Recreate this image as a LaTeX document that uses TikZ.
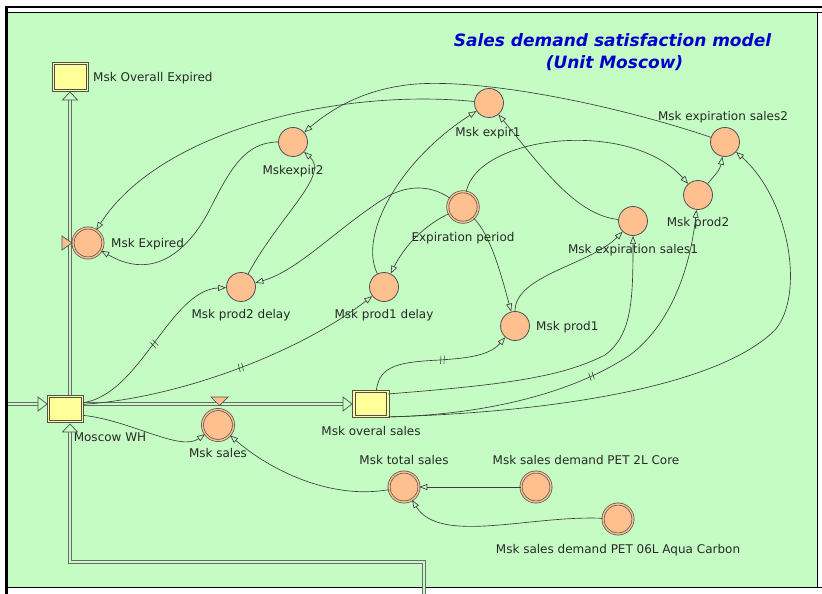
\documentclass[tikz,border=0pt]{standalone}
\usepackage{fontspec}
\setmainfont{DejaVu Sans}
\usetikzlibrary{arrows.meta,decorations.markings}
\definecolor{bg}{RGB}{196,252,196}
\definecolor{auxfill}{RGB}{255,192,144}
\definecolor{stockfill}{RGB}{255,255,153}
\definecolor{edge}{RGB}{80,80,80}
\definecolor{conncol}{RGB}{60,60,60}
\definecolor{txtcol}{RGB}{40,40,40}
\definecolor{titlecol}{RGB}{0,0,204}
\begin{document}
\begin{tikzpicture}[x=1bp,y=-1bp,
 aux/.style={circle,fill=auxfill,draw=edge,line width=0.8bp,minimum size=29bp,inner sep=0pt},
 auxd/.style={circle,fill=auxfill,draw=edge,line width=0.7bp,double=auxfill,double distance=1.4bp,minimum size=30bp,inner sep=0pt},
 stock/.style={rectangle,fill=stockfill,draw=edge,line width=0.8bp,double=stockfill,double distance=1.6bp,minimum width=34bp,minimum height=25bp,inner sep=0pt},
 lbl/.style={font=\fontsize{12bp}{14bp}\selectfont,text=txtcol,inner sep=0pt,anchor=base},
 titlestyle/.style={font=\fontsize{17bp}{20bp}\selectfont\bfseries\itshape,text=titlecol,inner sep=0pt,anchor=base},
 conn/.style={draw=conncol,line width=0.65bp,-{Triangle[open,length=8bp,width=6bp]}},
 flow/.style={draw=edge!85,line width=0.8bp,double=bg,double distance=2.2bp,line join=miter},
 flowtip/.style={draw=edge,line width=0.7bp,fill=bg},
 valve/.style={draw=edge,line width=0.7bp,fill=auxfill},
 delaymark/.style={postaction={decorate,decoration={markings,mark=at position #1 with {\draw[-,draw=conncol,line width=0.6bp] (-2bp,-4bp)--(-1bp,4bp); \draw[-,draw=conncol,line width=0.6bp] (1.5bp,-4bp)--(2.5bp,4bp);}}}}
]
\useasboundingbox (0,0) rectangle (822,594);
% frame
\fill[white] (0,0) rectangle (822,594);
\fill[bg] (8,12) rectangle (817,587);
\fill[black] (5,6) rectangle (822,8.5);
\fill[black] (5,6) rectangle (8,594);
\draw[black,line width=0.8bp] (8,12) -- (822,12);
\draw[black,line width=0.8bp] (8,587) -- (822,587);
\draw[black,line width=0.6bp] (817,12) -- (817,587);

% title
\node[titlestyle] (title1) at (612.5,47) {Sales demand satisfaction model};
\node[titlestyle] (title2) at (614.5,68.5) {(Unit Moscow)};

% stocks
\node[stock,minimum height=27bp] (ovexp) at (70.5,77) {};
\node[stock] (wh) at (65.5,409) {};
\node[stock] (ovsales) at (371,404) {};

% flow coordinates
\coordinate (srcL) at (8,404);
\coordinate (tipL) at (38,404);
\coordinate (whR) at (84,404);
\coordinate (tipS) at (343,404);
\coordinate (whT) at (70,395);
\coordinate (tipE) at (70,100);
\coordinate (srcB) at (424,594);
\coordinate (cB1) at (424,562);
\coordinate (cB2) at (70,562);
\coordinate (tipB) at (70,432);

% flows
\draw[flow] (srcL) -- (tipL);
\draw[flow] (whR) -- (tipS);
\draw[flow] (whT) -- (tipE);
\draw[flow] (srcB) -- (cB1) -- (cB2) -- (tipB);
\draw[flowtip] (38,397) -- (47,404) -- (38,411) -- cycle;
\draw[flowtip] (343,397) -- (352,404) -- (343,411) -- cycle;
\draw[flowtip] (62.5,100) -- (70,92) -- (77.5,100) -- cycle;
\draw[flowtip] (62.5,432) -- (70,424) -- (77.5,432) -- cycle;

% auxiliaries
\node[auxd] (expired) at (88,243) {};
\node[auxd,minimum size=31bp] (sales) at (218,425) {};
\node[aux] (expir1) at (489,103) {};
\node[aux] (expir2) at (293,142) {};
\node[aux] (exps2) at (725,142) {};
\node[aux] (prod2) at (698,195) {};
\node[aux] (exps1) at (633,221) {};
\node[auxd,minimum size=30.5bp] (expper) at (463,207) {};
\node[aux] (p1delay) at (384,287) {};
\node[aux] (prod1) at (515,326) {};
\node[aux] (p2delay) at (241,287) {};
\node[auxd] (total) at (404,487) {};
\node[auxd] (core) at (536,487) {};
\node[auxd] (aqua) at (618,519) {};

% valves
\draw[valve] (62,236) -- (72,243) -- (62,250) -- cycle;
\draw[valve] (211,397) -- (228,397) -- (219.5,405.5) -- cycle;

% labels
\node[lbl,anchor=base west] (l_ovexp) at (93,82) {Msk Overall Expired};
\node[lbl] (l_wh) at (110,441.5) {Moscow WH};
\node[lbl] (l_ovsales) at (371,435.5) {Msk overal sales};
\node[lbl,anchor=base west] (l_expired) at (111,247.5) {Msk Expired};
\node[lbl] (l_sales) at (218,457) {Msk sales};
\node[lbl] (l_expir1) at (488,136.5) {Msk expir1};
\node[lbl] (l_expir2) at (293,175) {Mskexpir2};
\node[lbl] (l_exps2) at (723,120.5) {Msk expiration sales2};
\node[lbl] (l_prod2) at (698,227) {Msk prod2};
\node[lbl] (l_exps1) at (633,253.5) {Msk expiration sales1};
\node[lbl] (l_expper) at (463,241.5) {Expiration period};
\node[lbl] (l_p1delay) at (384,318.5) {Msk prod1 delay};
\node[lbl,anchor=base west] (l_prod1) at (536,330.5) {Msk prod1};
\node[lbl] (l_p2delay) at (241,318.5) {Msk prod2 delay};
\node[lbl] (l_total) at (404,464.5) {Msk total sales};
\node[lbl] (l_core) at (586,464.5) {Msk sales demand PET 2L Core};
\node[lbl] (l_aqua) at (618,553.5) {Msk sales demand PET 06L Aqua Carbon};

% connectors
\draw[conn] (expir1) .. controls (340,88) and (160,130) .. (expired);
\draw[conn] (expir2) .. controls (245,142) and (230,170) .. (212,205) .. controls (195,240) and (160,285) .. (expired);
\draw[conn] (p2delay) .. controls (280,215) and (330,175) .. (expir2);
\draw[conn] (expper) .. controls (435,188) and (415,183) .. (390,195) .. controls (340,225) and (300,270) .. (p2delay);
\draw[conn] (expper) .. controls (425,225) and (405,245) .. (p1delay);
\draw[conn] (p1delay) .. controls (358,235) and (400,160) .. (expir1);
\draw[conn] (expper) .. controls (478,135) and (630,118) .. (prod2);
\draw[conn] (expper) .. controls (490,235) and (500,270) .. (prod1);
\draw[conn] (exps1) .. controls (575,215) and (540,165) .. (expir1);
\draw[conn] (prod2) .. controls (715,175) and (720,170) .. (exps2);
\draw[conn] (prod1) .. controls (515,275) and (590,265) .. (exps1);
\draw[conn,delaymark=0.54] (ovsales.68) .. controls (379,365) and (400,362) .. (440,360) .. controls (470,358) and (490,355) .. (prod1);
\draw[conn] (ovsales.30) .. controls (500,385) and (560,378) .. (605,355) .. controls (632,335) and (633,300) .. (exps1);
\draw[conn,delaymark=0.5] (ovsales.south east) .. controls (480,415) and (570,395) .. (630,355) .. controls (670,325) and (690,270) .. (prod2);
\draw[conn] (ovsales.south east) .. controls (560,412) and (720,385) .. (775,330) .. controls (805,295) and (790,200) .. (exps2);
\draw[conn,delaymark=0.5] (wh.20) .. controls (140,395) and (170,290) .. (p2delay);
\draw[conn,delaymark=0.52] (wh.15) .. controls (180,398) and (300,352) .. (p1delay);
\draw[conn] (wh.-20) .. controls (130,420) and (180,452) .. (sales);
\draw[conn] (total) .. controls (330,500) and (270,470) .. (sales);
\draw[conn] (core) -- (total);
\draw[conn] (aqua) .. controls (530,515) and (440,545) .. (total);
\draw[conn] (exps2) .. controls (600,100) and (460,75) .. (400,86) .. controls (360,92) and (330,110) .. (expir2);
\end{tikzpicture}
\end{document}
